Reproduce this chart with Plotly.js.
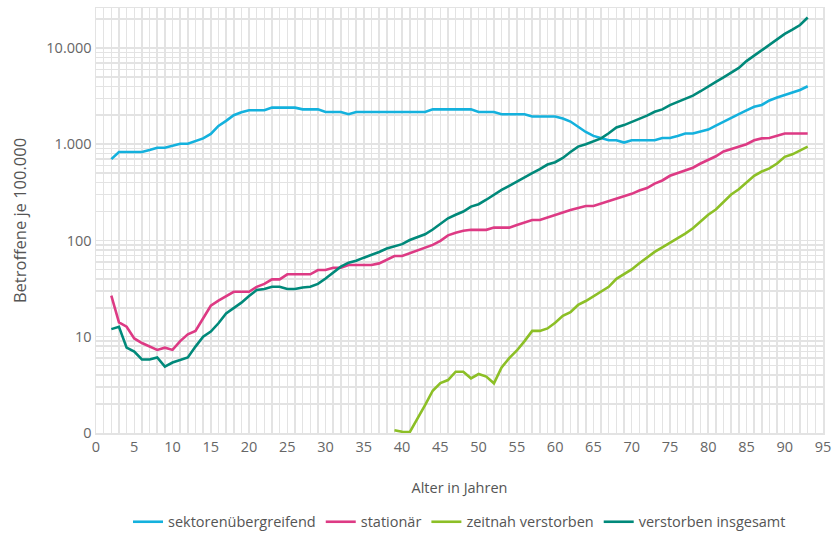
<!DOCTYPE html>
<html>
<head>
<meta charset="utf-8">
<script src="https://cdn.plot.ly/plotly-3.0.1.min.js"></script>
<style>html,body{margin:0;padding:0;background:#fff;}#chart{width:835px;height:533px;}</style>
</head>
<body>
<div id="chart"></div>
<script>
const ages = [2,3,4,5,6,7,8,9,10,11,12,13,14,15,16,17,18,19,20,21,22,23,24,25,26,27,28,29,30,31,32,33,34,35,36,37,38,39,40,41,42,43,44,45,46,47,48,49,50,51,52,53,54,55,56,57,58,59,60,61,62,63,64,65,66,67,68,69,70,71,72,73,74,75,76,77,78,79,80,81,82,83,84,85,86,87,88,89,90,91,92,93];

const sektorenuebergreifend = [700,830,830,830,830,870,920,920,960,1010,1010,1070,1150,1280,1550,1750,2000,2150,2250,2250,2250,2400,2400,2400,2400,2300,2300,2300,2160,2160,2160,2050,2160,2160,2160,2160,2160,2160,2160,2160,2160,2160,2300,2300,2300,2300,2300,2300,2160,2160,2160,2050,2050,2050,2050,1940,1940,1940,1940,1850,1720,1520,1340,1220,1150,1100,1100,1040,1100,1100,1100,1100,1160,1160,1220,1290,1290,1350,1420,1560,1700,1850,2050,2250,2450,2560,2850,3050,3250,3420,3660,4000];

const stationaer = [26.7,14.1,12.7,9.6,8.6,7.9,7.3,7.7,7.3,9.0,10.6,11.5,15.5,21,23.7,26.1,29.3,29.3,29.3,33,35.4,39.4,39.4,44.5,44.5,44.5,44.5,49.3,49.3,52,52,55.6,55.6,55.6,55.6,57.8,63.5,69,69,73.5,78.5,83,90,99,113,120,126,129,129,129,136,136,136,145,155,163,163,172,182,195,207,217,228,228,242,255,270,287,305,330,350,390,420,470,500,530,570,630,690,750,840,890,940,1000,1100,1150,1160,1220,1290,1290,1290,1290];

const zeitnahVerstorben = [null,null,null,null,null,null,null,null,null,null,null,null,null,null,null,null,null,null,null,null,null,null,null,null,null,null,null,null,null,null,null,null,null,null,null,null,null,1.07,1.03,1.02,1.4,1.95,2.75,3.3,3.55,4.33,4.33,3.7,4.1,3.85,3.28,4.8,6.0,7.2,9.0,11.5,11.5,12.2,14.0,16.5,18,21.4,23.5,26.5,29.3,33,40,44.5,50,58,67,76,85,95,105,118,134,158,185,210,250,300,340,400,470,520,560,630,740,785,870,945];

const verstorbenInsgesamt = [12,12.7,7.7,7.0,5.8,5.8,6.1,4.9,5.4,5.7,6.1,7.9,10,11.3,13.8,17.5,20,22.6,26.5,30.6,31.3,33,33,31.3,31.3,32.5,33,35.4,40.3,46.3,53.5,58.8,61.6,66.3,70.7,76,82.4,87,91.6,101,108,116,130,150,170,185,200,225,238,265,300,335,370,410,460,500,550,615,650,720,830,945,1000,1080,1150,1300,1490,1580,1700,1830,1980,2170,2300,2550,2750,2960,3200,3550,4000,4450,4950,5600,6200,7300,8300,9400,10700,12300,14000,15500,17300,20700];

const seriesNames = ["sektorenübergreifend","stationär","zeitnah verstorben","verstorben insgesamt"];
const yTickVals = [1,10,100,1000,10000];
const yTickText = ["0","10","100","1.000","10.000"];

const colors = ["#14b1dd","#dd3a84","#8cbf26","#00897a"];
const seriesData = [sektorenuebergreifend, stationaer, zeitnahVerstorben, verstorbenInsgesamt];

const traces = seriesData.map((ys, i) => ({
  x: ages, y: ys, type: "scatter", mode: "lines", name: seriesNames[i],
  line: {color: colors[i], width: 2.6}, connectgaps: false
}));

const minorVals = [];
for (let d = 1; d <= 10000; d *= 10) for (let k = 2; k <= 9; k++) minorVals.push(d * k);

const grid = "#e3e3e3";
const font = "Open Sans, Lato, sans-serif";
const layout = {
  width: 835, height: 533,
  margin: {l: 96, r: 12, t: 8, b: 100, autoexpand: false},
  paper_bgcolor: "#fff", plot_bgcolor: "#fff",
  font: {family: font, color: "#666", size: 14},
  showlegend: true,
  legend: {orientation: "h", x: 0.5, xanchor: "center", y: -0.209, yanchor: "middle",
           font: {size: 14.5, color: "#555"}, itemwidth: 30},
  xaxis: {
    range: [0, 95], dtick: 5, tick0: 0,
    showgrid: true, gridcolor: grid, gridwidth: 1.5,
    minor: {dtick: 1, showgrid: true, gridcolor: grid, gridwidth: 1.5},
    showline: true, mirror: true, linecolor: grid, linewidth: 1.5,
    zeroline: false, ticks: "", ticklen: 0, automargin: false,
    tickfont: {size: 14.5, color: "#666"},
    title: {text: "Alter in Jahren", font: {size: 14.5, color: "#555"}, standoff: 28}
  },
  yaxis: {
    type: "log", range: [0, 4.415],
    tickmode: "array", tickvals: yTickVals, ticktext: yTickText,
    showgrid: true, gridcolor: grid, gridwidth: 1.5,
    minor: {tickmode: "array", tickvals: minorVals, showgrid: true, gridcolor: grid, gridwidth: 1.5},
    showline: true, mirror: true, linecolor: grid, linewidth: 1.5,
    zeroline: false, ticks: "", ticklen: 0, automargin: false,
    tickfont: {size: 14.5, color: "#666"},
    title: {text: "Betroffene je 100.000", font: {size: 16.5, color: "#555"}, standoff: 15}
  }
};

Plotly.newPlot("chart", traces, layout, {displayModeBar: false, staticPlot: true});
</script>
</body>
</html>
